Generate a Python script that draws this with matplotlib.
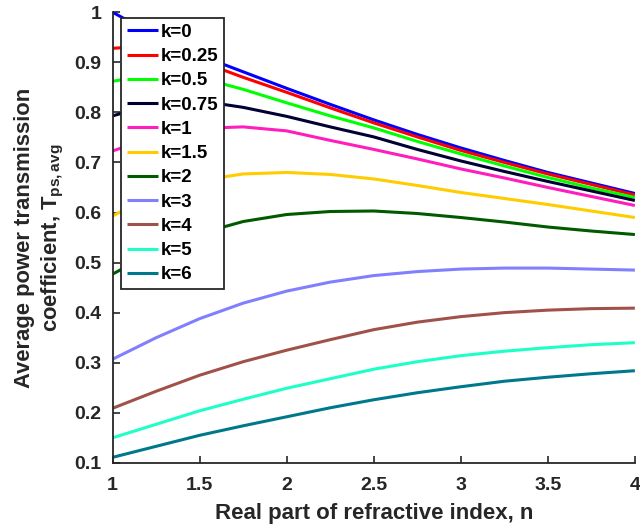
import matplotlib
matplotlib.use("Agg")
import matplotlib.pyplot as plt

plt.rcParams['font.family'] = ['Liberation Sans', 'DejaVu Sans']
plt.rcParams['font.weight'] = 'bold'
plt.rcParams['mathtext.fontset'] = 'custom'
plt.rcParams['mathtext.rm'] = 'Liberation Sans:bold'
plt.rcParams['mathtext.it'] = 'Liberation Sans:bold'
plt.rcParams['mathtext.bf'] = 'Liberation Sans:bold'

# Real part of the refractive index
n_vals = [1.0, 1.25, 1.5, 1.75, 2.0, 2.25, 2.5, 2.75, 3.0, 3.25, 3.5, 3.75, 4.0]

# Average s/p power transmission for each extinction coefficient k
T_k0 = [1.000, 0.952, 0.914, 0.881, 0.848, 0.816, 0.785, 0.756, 0.729, 0.704, 0.680, 0.659, 0.638]
T_k025 = [0.928, 0.933, 0.902, 0.870, 0.840, 0.809, 0.779, 0.751, 0.724, 0.700, 0.677, 0.656, 0.635]
T_k05 = [0.862, 0.878, 0.869, 0.846, 0.819, 0.793, 0.769, 0.742, 0.717, 0.693, 0.670, 0.649, 0.630]
T_k075 = [0.793, 0.818, 0.823, 0.810, 0.792, 0.771, 0.751, 0.726, 0.703, 0.682, 0.662, 0.643, 0.624]
T_k1 = [0.723, 0.752, 0.768, 0.771, 0.763, 0.744, 0.726, 0.707, 0.687, 0.669, 0.650, 0.632, 0.614]
T_k15 = [0.593, 0.640, 0.664, 0.677, 0.680, 0.676, 0.667, 0.654, 0.640, 0.628, 0.616, 0.603, 0.590]
T_k2 = [0.477, 0.524, 0.558, 0.582, 0.596, 0.602, 0.603, 0.598, 0.590, 0.581, 0.571, 0.563, 0.556]
T_k3 = [0.307, 0.350, 0.388, 0.419, 0.443, 0.461, 0.474, 0.482, 0.487, 0.489, 0.489, 0.487, 0.485]
T_k4 = [0.209, 0.243, 0.275, 0.302, 0.325, 0.346, 0.366, 0.381, 0.392, 0.400, 0.405, 0.408, 0.409]
T_k5 = [0.150, 0.177, 0.204, 0.227, 0.249, 0.268, 0.287, 0.302, 0.314, 0.323, 0.330, 0.336, 0.340]
T_k6 = [0.111, 0.133, 0.155, 0.174, 0.192, 0.210, 0.226, 0.240, 0.252, 0.263, 0.271, 0.278, 0.284]

labels = ['k=0', 'k=0.25', 'k=0.5', 'k=0.75', 'k=1', 'k=1.5',
          'k=2', 'k=3', 'k=4', 'k=5', 'k=6']
series = [T_k0, T_k025, T_k05, T_k075, T_k1, T_k15, T_k2, T_k3, T_k4, T_k5, T_k6]
colors = ['#0000FF', '#FF0000', '#00FF00', '#000033', '#FF1DBE', '#FFCC00',
          '#005A00', '#8080FF', '#A0524A', '#1EFFC8', '#00788C']

x_ticks = [1, 1.5, 2, 2.5, 3, 3.5, 4]
x_ticklabels = ['1', '1.5', '2', '2.5', '3', '3.5', '4']
y_ticks = [0.1, 0.2, 0.3, 0.4, 0.5, 0.6, 0.7, 0.8, 0.9, 1.0]
y_ticklabels = ['0.1', '0.2', '0.3', '0.4', '0.5', '0.6', '0.7', '0.8', '0.9', '1']

axcol = '#262626'

fig = plt.figure(figsize=(6.4, 5.32), dpi=100)
ax = fig.add_axes([0.176, 0.130, 0.816, 0.847])

for y, c, lab in zip(series, colors, labels):
    ax.plot(n_vals, y, color=c, lw=2.2, label=lab, solid_capstyle='butt')

ax.set_xlim(1, 4)
ax.set_ylim(0.1, 1.0)
ax.set_xticks(x_ticks)
ax.set_xticklabels(x_ticklabels)
ax.set_yticks(y_ticks)
ax.set_yticklabels(y_ticklabels)

for side in ['top', 'right']:
    ax.spines[side].set_visible(False)
for side in ['left', 'bottom']:
    ax.spines[side].set_color(axcol)
    ax.spines[side].set_linewidth(1.3)

ax.tick_params(direction='in', length=5, width=1.2, colors=axcol,
               labelsize=14)
ax.tick_params(axis='x', pad=10)
ax.tick_params(axis='y', pad=8)
for t in ax.get_xticklabels() + ax.get_yticklabels():
    t.set_fontweight('bold')
    t.set_color(axcol)

ax.set_xlabel('Real part of refractive index, n', fontsize=16,
              fontweight='bold', color=axcol, labelpad=7)
ax.set_ylabel('Average power transmission\ncoefficient, $\\mathregular{T_{ps,avg}}$',
              fontsize=15.8, fontweight='bold', color=axcol, labelpad=6,
              linespacing=1.3)

leg = ax.legend(loc='upper left', bbox_to_anchor=(0.016, 0.987),
                borderaxespad=0, fontsize=13.5, handlelength=1.65,
                handletextpad=0.15, labelspacing=0.38, borderpad=0.3,
                fancybox=False, framealpha=1, edgecolor=axcol)
leg.get_frame().set_linewidth(1.3)
for t in leg.get_texts():
    t.set_fontweight('bold')
    t.set_color('black')

fig.savefig('out.png', dpi=100)
